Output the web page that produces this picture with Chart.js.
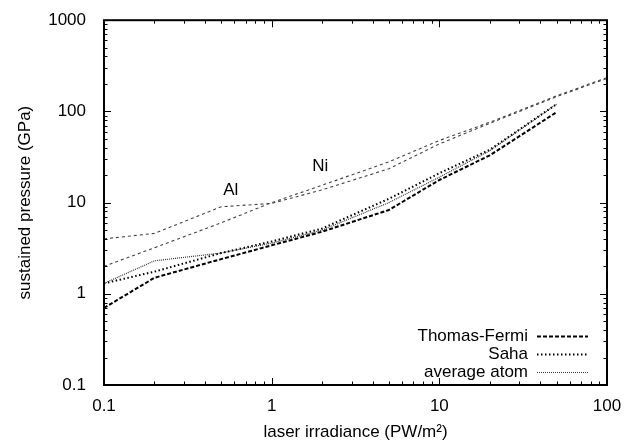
<!DOCTYPE html>
<html>
<head>
<meta charset="utf-8">
<script src="https://cdn.jsdelivr.net/npm/chart.js@4.4.1/dist/chart.umd.min.js"></script>
<style>
html, body { margin: 0; padding: 0; background: #fff; }
#box { width: 634px; height: 443px; }
</style>
</head>
<body>
<div id="box"><canvas id="pressureChart"></canvas></div>
<script>
// laser irradiance (PW/m^2)
var irradiance = [0.1, 0.2, 0.5, 1, 2, 5, 10, 20, 50, 100];

// sustained pressure (GPa)
var thomasFermi = [0.7, 1.5, 2.4, 3.4, 4.8, 8.3, 17.7, 33, 98];
var saha = [1.3, 1.75, 2.8, 3.75, 5.2, 11, 21, 38, 120];
var averageAtom = [1.3, 2.3, 2.8, 3.6, 5.0, 10, 19, 37, 120];
var aluminium = [4, 4.6, 9, 9.8, 13.8, 23.5, 44, 74, 145, 230];
var nickel = [2, 3.2, 6.0, 10, 15.5, 28, 48, 76, 148, 235];

var xTicks = [0.1, 1, 10, 100];
var yTicks = [0.1, 1, 10, 100, 1000];

var fontFamily = "'Liberation Sans', Arial, sans-serif";
var labelFont = "17px " + fontFamily;

function toPoints(values)
{
    var pts = [];
    for (var i = 0; i < values.length; i++)
    {
        pts.push({x: irradiance[i], y: values[i]});
    }
    return pts;
}

function lineSet(label, values, color, width, dash, inLegend)
{
    return {
        label: label,
        data: toPoints(values),
        borderColor: color,
        borderWidth: width,
        borderDash: dash,
        pointRadius: 0,
        tension: 0,
        fill: false,
        inLegend: inLegend
    };
}

// frame + inward gnuplot style ticks on all four sides
var framePlugin = {
    id: "frame",
    afterDatasetsDraw: function (chart) {
        var ctx = chart.ctx;
        var a = chart.chartArea;
        var xs = chart.scales.x;
        var ys = chart.scales.y;
        ctx.save();
        ctx.strokeStyle = "#000";
        ctx.lineWidth = 1;
        var dec, m, p;
        for (dec = 0.1; dec < 100; dec *= 10)
        {
            for (m = 1; m <= 10; m++)
            {
                var v = dec * m;
                if (v > 100.001) continue;
                p = Math.round(xs.getPixelForValue(v)) + 0.5;
                var len = (m == 1 || m == 10) ? 7 : 3.5;
                ctx.beginPath();
                ctx.moveTo(p, a.bottom); ctx.lineTo(p, a.bottom - len);
                ctx.moveTo(p, a.top); ctx.lineTo(p, a.top + len);
                ctx.stroke();
            }
        }
        for (dec = 0.1; dec < 1000; dec *= 10)
        {
            for (m = 1; m <= 10; m++)
            {
                var w = dec * m;
                if (w > 1000.01) continue;
                p = Math.round(ys.getPixelForValue(w)) + 0.5;
                var l2 = (m == 1 || m == 10) ? 7 : 3.5;
                ctx.beginPath();
                ctx.moveTo(a.left, p); ctx.lineTo(a.left + l2, p);
                ctx.moveTo(a.right, p); ctx.lineTo(a.right - l2, p);
                ctx.stroke();
            }
        }
        ctx.lineWidth = 2;
        ctx.strokeRect(a.left, a.top, a.right - a.left, a.bottom - a.top);
        ctx.restore();
    }
};

// legend in the lower right (text, then line sample) and the Al / Ni labels
var notesPlugin = {
    id: "notes",
    afterDatasetsDraw: function (chart) {
        var ctx = chart.ctx;
        var xs = chart.scales.x;
        var ys = chart.scales.y;
        ctx.save();
        ctx.font = labelFont;
        ctx.fillStyle = "#000";
        ctx.textBaseline = "middle";
        var row = 0;
        chart.data.datasets.forEach(function (ds) {
            if (!ds.inLegend) return;
            var y = 336 + row * 18;
            ctx.textAlign = "right";
            ctx.fillText(ds.label, 528, y);
            ctx.strokeStyle = ds.borderColor;
            ctx.lineWidth = ds.borderWidth;
            ctx.setLineDash(ds.borderDash);
            ctx.beginPath();
            ctx.moveTo(537, y + 0.5);
            ctx.lineTo(588, y + 0.5);
            ctx.stroke();
            row++;
        });
        ctx.setLineDash([]);
        ctx.textAlign = "center";
        ctx.fillText("Al", xs.getPixelForValue(0.57), ys.getPixelForValue(13.5));
        ctx.fillText("Ni", xs.getPixelForValue(1.95), ys.getPixelForValue(25));
        ctx.restore();
    }
};

var chart = new Chart(document.getElementById("pressureChart"), {
    type: "line",
    data: {
        datasets: [
            lineSet("Thomas-Fermi", thomasFermi, "#000", 2, [4, 2], true),
            lineSet("Saha", saha, "#000", 2, [1.5, 2.5], true),
            lineSet("average atom", averageAtom, "#333", 1.2, [1, 1], true),
            lineSet("Al", aluminium, "#444", 1.1, [3, 3], false),
            lineSet("Ni", nickel, "#444", 1.1, [3, 3], false)
        ]
    },
    options: {
        responsive: true,
        maintainAspectRatio: false,
        animation: false,
        layout: { padding: { top: 15, right: 27, left: 0, bottom: 0 } },
        plugins: {
            legend: { display: false },
            tooltip: { enabled: false }
        },
        scales: {
            x: {
                type: "logarithmic",
                min: 0.1,
                max: 100,
                afterBuildTicks: function (scale) {
                    scale.ticks = xTicks.map(function (v) { return {value: v}; });
                },
                afterFit: function (scale) { scale.height = 58; },
                grid: { display: false },
                border: { display: false },
                ticks: {
                    color: "#000",
                    font: { family: fontFamily, size: 17 },
                    padding: 3,
                    maxRotation: 0,
                    autoSkip: false,
                    callback: function (v) { return String(v); }
                },
                title: {
                    display: true,
                    text: "laser irradiance (PW/m\u00b2)",
                    color: "#000",
                    font: { family: fontFamily, size: 17 },
                    padding: { top: 5, bottom: 0 }
                }
            },
            y: {
                type: "logarithmic",
                min: 0.1,
                max: 1000,
                afterBuildTicks: function (scale) {
                    scale.ticks = yTicks.map(function (v) { return {value: v}; });
                },
                afterFit: function (scale) { scale.width = 104; },
                grid: { display: false },
                border: { display: false },
                ticks: {
                    color: "#000",
                    font: { family: fontFamily, size: 17 },
                    padding: 10,
                    autoSkip: false,
                    callback: function (v) { return String(v); }
                },
                title: {
                    display: true,
                    text: "sustained pressure (GPa)",
                    color: "#000",
                    font: { family: fontFamily, size: 17 },
                    padding: { top: 15, bottom: 0 }
                }
            }
        }
    },
    plugins: [framePlugin, notesPlugin]
});
</script>
</body>
</html>
